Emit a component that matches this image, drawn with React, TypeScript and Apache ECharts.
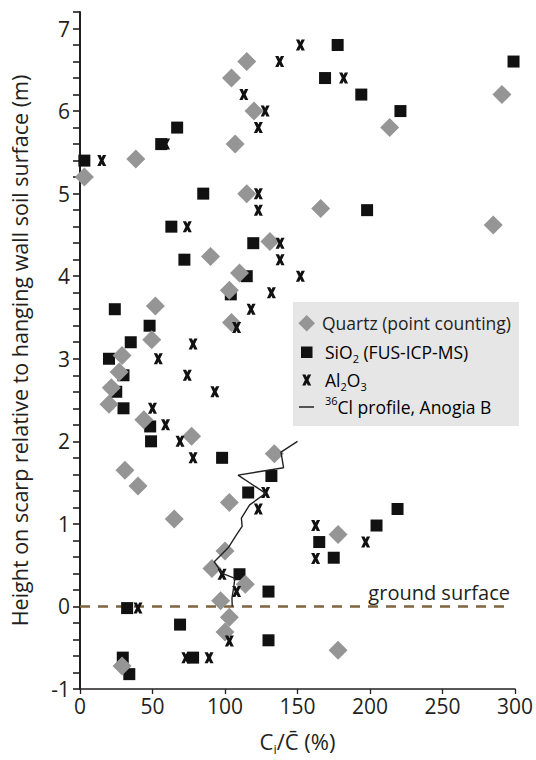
import React, { useEffect, useRef } from 'react';
import * as echarts from 'echarts';

// Quartz (point counting): [Ci/C (%), height (m)]
const quartzData: [number, number][] = [
  [115, 6.6], [104.5, 6.4], [120, 6.0], [291, 6.2], [213.6, 5.8], [107, 5.6],
  [38.5, 5.42], [3, 5.2], [115, 5.0], [166, 4.82], [285, 4.62], [131, 4.42],
  [90, 4.24], [110, 4.04], [103, 3.83], [52, 3.64], [104.5, 3.44], [49.5, 3.23],
  [29, 3.04], [27, 2.84], [21.6, 2.65], [20, 2.45], [44, 2.26], [77, 2.06],
  [134, 1.85], [31, 1.65], [40, 1.46], [103, 1.26], [65, 1.06], [178, 0.87],
  [100, 0.67], [91, 0.46], [114, 0.27], [97, 0.07], [103, -0.13], [100, -0.31],
  [178, -0.53], [29, -0.72],
];

// SiO2 (FUS-ICP-MS)
const sio2Data: [number, number][] = [
  [177.7, 6.8], [299, 6.6], [169, 6.4], [194, 6.2], [221, 6.0], [67, 5.8],
  [56, 5.6], [3, 5.4], [85, 5.0], [198, 4.8], [63, 4.6], [119.5, 4.4],
  [72, 4.2], [115, 4.0], [104, 3.78], [24, 3.6], [48, 3.4], [35, 3.2],
  [20, 3.0], [30, 2.8], [25, 2.6], [30, 2.4], [48.4, 2.18], [49, 2.0],
  [98, 1.8], [132, 1.58], [116, 1.38], [219, 1.18], [204.5, 0.98], [165, 0.78],
  [175, 0.59], [110, 0.39], [130, 0.18], [32.5, -0.02], [69, -0.22], [130, -0.41],
  [78, -0.62], [29.5, -0.62], [34, -0.82],
];

// Al2O3
const al2o3Data: [number, number][] = [
  [152, 6.8], [137.7, 6.6], [181.8, 6.4], [113, 6.2], [127.7, 6.0], [123, 5.8],
  [59, 5.6], [15, 5.4], [123, 5.0], [123, 4.8], [74, 4.6], [138, 4.4],
  [138, 4.2], [152, 4.0], [132, 3.8], [118, 3.6], [108, 3.38], [78, 3.18],
  [54, 3.0], [74, 2.8], [93, 2.6], [50, 2.4], [59, 2.2], [69, 2.0],
  [78, 1.8], [128, 1.38], [123, 1.18], [162.5, 0.98], [197, 0.78], [162.5, 0.58],
  [98, 0.39], [108, 0.18], [40, -0.02], [103, -0.42], [73, -0.62], [89, -0.62],
];

// 36Cl profile, Anogia B
const clProfile: [number, number][] = [
  [150, 2.0], [138.6, 1.87], [140.4, 1.68], [109, 1.59], [128, 1.37], [117, 1.23],
  [111.3, 1.07], [111.8, 0.97], [108, 0.87], [102.2, 0.71], [92.6, 0.54], [98.2, 0.4],
  [106.8, 0.34], [106.1, 0.24], [104.8, 0.1], [105, 0.0],
];

// ground surface line (height 0)
const groundLine: [number, number][] = [[0, 0], [296, 0]];

const xTicks = { min: 0, max: 300, interval: 50 };
const yTicks = { min: -1, max: 7.2, interval: 0.2 };

const FONT = '"Open Sans", "Noto Sans", sans-serif';
const INK = '#231f20';
const X_PTS = [[0, 0], [3.7, 0], [5, 2.7], [6.3, 0], [10, 0], [7, 6], [10, 12], [6.3, 12], [5, 9.3], [3.7, 12], [0, 12], [3, 6]];
const X_PATH = 'path://M' + X_PTS.map((p) => p.join(',')).join('L') + 'Z';

function xPolygon(cx: number, cy: number, w: number, h: number): number[][] {
  return X_PTS.map(([px, py]) => [cx - w / 2 + (px / 10) * w, cy - h / 2 + (py / 12) * h]);
}

export default function App() {
  const ref = useRef<HTMLDivElement>(null);
  useEffect(() => {
    document.body.style.margin = '0';
    const chart = echarts.init(ref.current!, null, { renderer: 'svg' });
    const richMain = { fontSize: 17.5, fontFamily: FONT, color: INK, lineHeight: 24, verticalAlign: 'middle' };
    const richSub = { fontSize: 11, fontFamily: FONT, color: INK, lineHeight: 12, verticalAlign: 'bottom' };
    const richSup = { fontSize: 11, fontFamily: FONT, color: INK, lineHeight: 14, verticalAlign: 'top' };
    chart.setOption({
      animation: false,
      backgroundColor: '#ffffff',
      grid: { left: 80, right: 16, top: 12, bottom: 69, containLabel: false },
      xAxis: {
        type: 'value',
        min: xTicks.min,
        max: xTicks.max,
        interval: xTicks.interval,
        splitLine: { show: false },
        axisLine: { show: true, onZero: false, lineStyle: { color: INK, width: 1.6 } },
        axisTick: { show: true, inside: false, length: 5, lineStyle: { color: INK, width: 1.3 } },
        axisLabel: { color: INK, fontSize: 21, fontFamily: FONT, margin: 6 },
        name: '{a|C}{s|i}{a|/C\u0304 (%)}',
        nameLocation: 'middle',
        nameGap: 38,
        nameTextStyle: {
          rich: {
            a: { fontSize: 22, fontFamily: FONT, color: INK, lineHeight: 28, verticalAlign: 'middle' },
            s: { fontSize: 13, fontFamily: FONT, color: INK, lineHeight: 14, verticalAlign: 'bottom' },
          },
        },
      },
      yAxis: {
        type: 'value',
        min: yTicks.min,
        max: yTicks.max,
        interval: yTicks.interval,
        splitLine: { show: false },
        axisLine: { show: true, onZero: false, lineStyle: { color: INK, width: 2 } },
        axisTick: { show: true, inside: false, length: 7, lineStyle: { color: INK, width: 1.6 } },
        axisLabel: {
          color: INK,
          fontSize: 21,
          fontFamily: FONT,
          margin: 10,
          formatter: (v: number) => (Math.abs(v - Math.round(v)) < 1e-6 ? String(Math.round(v)) : ''),
        },
        name: 'Height on scarp relative to hanging wall soil surface (m)',
        nameLocation: 'middle',
        nameRotate: 90,
        nameGap: 50,
        nameTextStyle: { color: INK, fontSize: 21.5, fontFamily: FONT },
      },
      series: [
        {
          name: 'ground',
          type: 'line',
          data: groundLine,
          symbol: 'none',
          silent: true,
          lineStyle: { color: '#80633f', width: 2.6, type: [10, 8] },
          z: 1,
        },
        {
          name: 'Quartz (point counting)',
          type: 'scatter',
          data: quartzData,
          symbol: 'diamond',
          symbolSize: 19,
          itemStyle: { color: '#959595', opacity: 1 },
          z: 3,
        },
        {
          name: 'SiO2 (FUS-ICP-MS)',
          type: 'scatter',
          data: sio2Data,
          symbol: 'rect',
          symbolSize: 12,
          itemStyle: { color: '#111111', opacity: 1 },
          z: 2,
        },
        {
          name: 'Al2O3',
          type: 'scatter',
          data: al2o3Data,
          symbol: X_PATH,
          symbolSize: [9, 11],
          itemStyle: { color: '#111111', opacity: 1 },
          z: 4,
        },
        {
          name: '36Cl profile, Anogia B',
          type: 'line',
          data: clProfile,
          symbol: 'none',
          lineStyle: { color: '#222222', width: 1.4 },
          z: 5,
        },
      ],
      graphic: [
        {
          type: 'text',
          x: 510,
          y: 592,
          z: 50,
          style: { text: 'ground surface', font: `20px ${FONT}`, fill: INK, align: 'right', verticalAlign: 'middle' },
        },
        {
          type: 'group',
          z: 100,
          children: [
            { type: 'rect', shape: { x: 293, y: 302, width: 226, height: 124 }, style: { fill: '#e6e6e6' } },
            {
              type: 'polygon',
              shape: { points: [[306.7, 315], [315, 323.3], [306.7, 331.6], [298.4, 323.3]] },
              style: { fill: '#959595' },
            },
            { type: 'rect', shape: { x: 301, y: 346.5, width: 11.5, height: 11.5 }, style: { fill: '#111111' } },
            { type: 'polygon', shape: { points: xPolygon(306.7, 380, 9, 11) }, style: { fill: '#111111' } },
            { type: 'line', shape: { x1: 299, y1: 407, x2: 314, y2: 407 }, style: { stroke: '#222222', lineWidth: 1.5 } },
            {
              type: 'text', x: 322, y: 323,
              style: { text: 'Quartz (point counting)', font: `17.5px ${FONT}`, fill: INK, verticalAlign: 'middle' },
            },
            {
              type: 'text', x: 325, y: 352,
              style: { text: '{a|SiO}{s|2}{a| (FUS-ICP-MS)}', rich: { a: richMain, s: richSub }, verticalAlign: 'middle' },
            },
            {
              type: 'text', x: 325, y: 380,
              style: { text: '{a|Al}{s|2}{a|O}{s|3}', rich: { a: richMain, s: richSub }, verticalAlign: 'middle' },
            },
            {
              type: 'text', x: 325, y: 407,
              style: { text: '{p|36}{a|Cl profile, Anogia B}', rich: { a: richMain, p: richSup }, verticalAlign: 'middle' },
            },
          ],
        },
      ],
    });
    return () => chart.dispose();
  }, []);
  return <div ref={ref} style={{ width: 536, height: 760 }} />;
}
